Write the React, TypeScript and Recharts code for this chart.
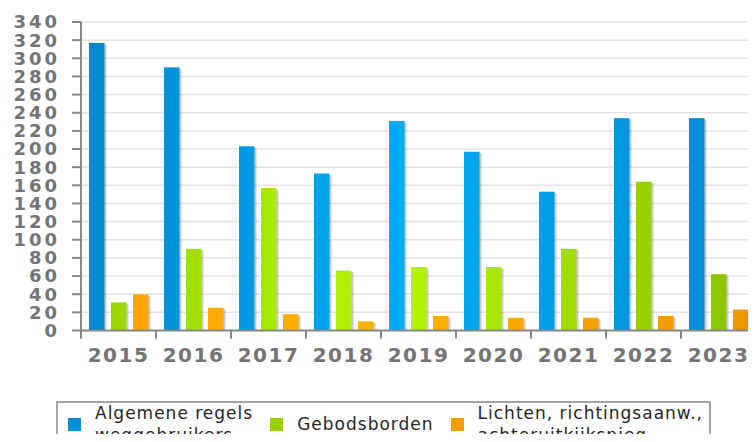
import { BarChart, Bar, XAxis, YAxis, CartesianGrid } from 'recharts';

const YEARS = ['2015', '2016', '2017', '2018', '2019', '2020', '2021', '2022', '2023'];
const ALGEMENE = [317, 290, 203, 173, 231, 197, 153, 234, 234];
const GEBODS = [31, 90, 157, 66, 70, 70, 90, 164, 62];
const LICHTEN = [40, 25, 18, 10, 16, 14, 14, 16, 23];
const Y_TICKS = [0, 20, 40, 60, 80, 100, 120, 140, 160, 180, 200, 220, 240, 260, 280, 300, 320, 340];

const SERIES = [
  { key: 'algemene', lines: ['Algemene regels', 'weggebruikers'], swatch: '#0090d8', stops: ['#0088d0', '#00acf4', '#0088d4'] },
  { key: 'gebods', lines: ['Gebodsborden'], swatch: '#98d000', stops: ['#98d400', '#b4f600', '#88c000'] },
  { key: 'lichten', lines: ['Lichten, richtingsaanw.,', 'achteruitkijkspieg.....'], swatch: '#f39c00', stops: ['#ffa400', '#ffb200', '#ec9400'] },
];

const data = YEARS.map((year, i) => ({
  year,
  algemene: ALGEMENE[i],
  gebods: GEBODS[i],
  lichten: LICHTEN[i],
}));

const W = 755;
const H = 442;
const Y_W = 80;
const X_TICK_SIZE = 8;
const X_TICK_MARGIN = 9;
const FONT = '"DejaVu Sans", Verdana, sans-serif';
const AXIS = '#888';
const LABEL = '#747474';

const ShadowBar = (props: any) => {
  const { x, y, width, height, fill } = props;
  if (!height || height <= 0) return null;
  return (
    <g>
      <rect x={x + 2} y={y + 1.5} width={width} height={height - 1.5} fill="#000" fillOpacity={0.2} />
      <rect x={x} y={y} width={width} height={height} fill={fill} />
    </g>
  );
};

const XTick = (props: any) => {
  const { x, y, payload } = props;
  const half = typeof payload?.offset === 'number' && payload.offset > 0 ? payload.offset : (W - Y_W) / YEARS.length / 2;
  const axisY = y - X_TICK_SIZE - X_TICK_MARGIN;
  return (
    <g>
      <line x1={x - half} x2={x - half} y1={axisY} y2={axisY + X_TICK_SIZE} stroke={AXIS} strokeWidth={2} />
      <text x={x} y={y} dy="0.71em" textAnchor="middle" fill={LABEL} fontSize={20} fontWeight="bold" letterSpacing={1.5} fontFamily={FONT}>
        {payload.value}
      </text>
    </g>
  );
};

function ChartLegend() {
  return (
    <div style={{
      position: 'absolute', left: 55, top: 401, width: 655, height: 60, boxSizing: 'border-box',
      border: '2px solid #a3a3a3', background: '#fff', display: 'flex', alignItems: 'flex-start',
      paddingLeft: 10, fontFamily: FONT, fontSize: 17, letterSpacing: 1, color: '#262626', lineHeight: '22px',
    }}>
      {SERIES.map((s) => (
        <div key={s.key} style={{ display: 'flex', alignItems: 'center', height: 44, marginTop: -1, marginRight: 17 }}>
          <div style={{ width: 13, height: 13, background: s.swatch, marginRight: 14, flexShrink: 0 }} />
          <div style={{ whiteSpace: 'nowrap' }}>
            {s.lines.map((l) => <div key={l}>{l}</div>)}
          </div>
        </div>
      ))}
    </div>
  );
}

export default function App() {
  return (
    <div style={{
      position: 'relative', width: 756, height: H, margin: -8, overflow: 'hidden',
      borderLeft: '1px solid #000', boxSizing: 'border-box', background: '#fff',
    }}>
      <BarChart width={W} height={H} data={data} margin={{ top: 22, right: 0, left: 0, bottom: 71.5 }} barSize={15.5} barGap={6.5}>
        <defs>
          {SERIES.map((s) => (
            <linearGradient key={s.key} id={`grad-${s.key}`} gradientUnits="userSpaceOnUse" x1={Y_W} y1={0} x2={W} y2={0}>
              <stop offset="0" stopColor={s.stops[0]} />
              <stop offset="0.47" stopColor={s.stops[1]} />
              <stop offset="1" stopColor={s.stops[2]} />
            </linearGradient>
          ))}
        </defs>
        <CartesianGrid vertical={false} stroke="#e4e4e4" strokeWidth={1.5} />
        <XAxis
          dataKey="year"
          height={40}
          axisLine={{ stroke: AXIS, strokeWidth: 2 }}
          tickLine={false}
          tickSize={X_TICK_SIZE}
          tickMargin={X_TICK_MARGIN}
          tick={<XTick />}
          interval={0}
        />
        <YAxis
          width={Y_W}
          domain={[0, 340]}
          ticks={Y_TICKS}
          interval={0}
          axisLine={{ stroke: AXIS, strokeWidth: 2 }}
          tickLine={{ stroke: AXIS, strokeWidth: 2 }}
          tickSize={9}
          tickMargin={12}
          tick={{ fill: LABEL, fontSize: 18, fontWeight: 'bold', letterSpacing: 3, fontFamily: FONT }}
        />
        {SERIES.map((s) => (
          <Bar key={s.key} dataKey={s.key} fill={`url(#grad-${s.key})`} shape={<ShadowBar />} isAnimationActive={false} />
        ))}
      </BarChart>
      <ChartLegend />
    </div>
  );
}
